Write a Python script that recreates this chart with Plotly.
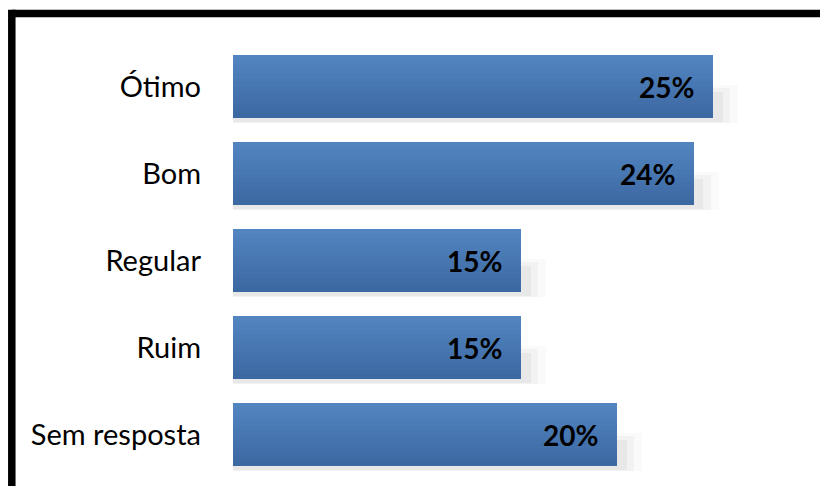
import plotly.graph_objects as go

categorias = ["Ótimo", "Bom", "Regular", "Ruim", "Sem resposta"]
valores = [25, 24, 15, 15, 20]
rotulos = ["25%", "24%", "15%", "15%", "20%"]

# a página tem 8px de margem no body; a figura compensa isso sem gerar rolagem
W, H = 813, 478
ML, MR, MT, MB = 225, 8, 35, 8
PW, PH = W - ML - MR, H - MT - MB
XMAX = PW / 19.2  # 19.2 px por ponto percentual

fig = go.Figure()

# sombra suave (abaixo e à direita), em camadas para imitar o desfoque
for dx, off, wd, a in [(1.3, -0.02, 0.44, 0.02), (0.9, 0.02, 0.40, 0.03), (0.5, 0.06, 0.35, 0.04)]:
    fig.add_trace(go.Bar(
        y=categorias, x=[v + dx for v in valores], orientation="h",
        width=wd, offset=off, marker=dict(color="rgba(0,0,0,%s)" % a, line_width=0),
        hoverinfo="skip", showlegend=False,
    ))

# barras com degradê vertical (fatias sobrepostas)
n = 14
topo, base = (82, 132, 192), (61, 105, 162)
bw = 0.713
for i in range(n):
    t = i / (n - 1)
    c = tuple(round(topo[k] + (base[k] - topo[k]) * t) for k in range(3))
    fig.add_trace(go.Bar(
        y=categorias, x=valores, orientation="h",
        width=bw / n + 0.004, offset=-bw / 2 + i * bw / n,
        marker=dict(color="rgb(%d,%d,%d)" % c, line_width=0),
        hoverinfo="skip", showlegend=False,
    ))

# rótulos de valor
for cat, v, r in zip(categorias, valores, rotulos):
    fig.add_annotation(x=v, y=cat, text="<b>%s</b>" % r, showarrow=False,
                       xanchor="right", xshift=-17, yshift=0,
                       font=dict(family="Lato", size=28, color="black"))

# moldura preta: só as bordas de cima e da esquerda
def xp(px):
    return (px - ML) / PW

def yp(py):
    return (H - MB - py) / PH

x0, y0, lw = 3.8, 5.5, 7.5
fig.add_shape(type="line", xref="paper", yref="paper",
              x0=xp(x0), y0=yp(H), x1=xp(x0), y1=yp(y0 - lw / 2),
              line=dict(color="black", width=lw))
fig.add_shape(type="line", xref="paper", yref="paper",
              x0=xp(x0), y0=yp(y0), x1=xp(W - 1), y1=yp(y0),
              line=dict(color="black", width=lw))

fig.update_layout(
    width=W, height=H, barmode="overlay", bargap=0,
    margin=dict(l=ML, r=MR, t=MT, b=MB),
    paper_bgcolor="white", plot_bgcolor="white",
    xaxis=dict(range=[0, XMAX], visible=False),
    yaxis=dict(range=[4.5, -0.5], showline=False, showgrid=False, ticks="",
               ticklabelstandoff=31, categoryorder="array", categoryarray=categorias,
               tickfont=dict(family="Lato", size=29, color="black")),
)

fig.write_html("out.html")
